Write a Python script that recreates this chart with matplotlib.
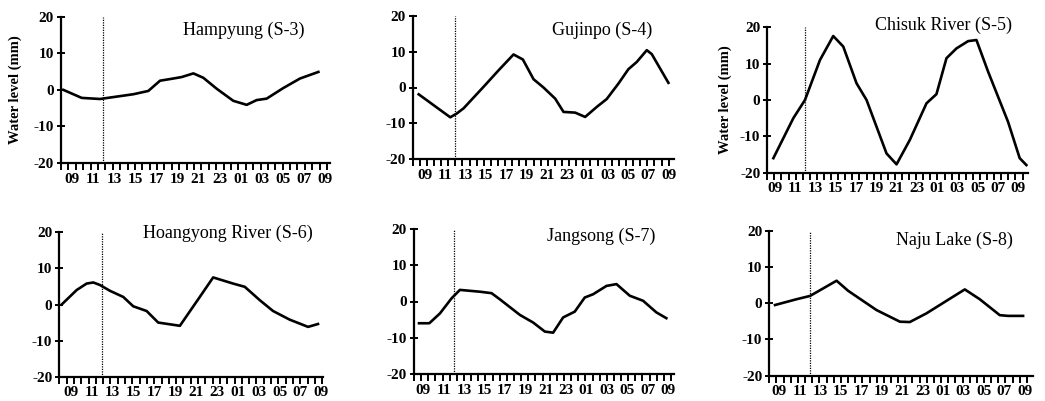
import matplotlib
matplotlib.use('Agg')
import matplotlib.pyplot as plt
import numpy as np

plt.rcParams['font.family'] = ['Liberation Serif', 'DejaVu Serif']

# hours since 00:00 of day 1 (values past 24 are the next morning)
hampyung_t = [8.21, 9.95, 11.68, 14.84, 16.26, 17.37, 18.63, 19.42, 20.53, 21.47, 22.74, 24.31, 25.58, 26.52, 27.47, 29.05, 30.63, 32.37]
hampyung_y = [0.0, -2.2, -2.5, -1.2, -0.3, 2.5, 3.1, 3.5, 4.5, 3.3, 0.3, -3.0, -4.1, -2.8, -2.4, 0.5, 3.1, 4.9]

gujinpo_t = [8.38, 11.49, 12.15, 12.8, 14.77, 16.25, 17.72, 18.64, 19.69, 20.67, 21.82, 22.64, 23.79, 24.77, 25.92, 26.9, 28.05, 29.03, 29.85, 30.84, 31.33, 32.97]
gujinpo_y = [-1.9, -8.3, -7.2, -5.8, 0.2, 4.8, 9.2, 7.8, 2.3, 0.0, -3.1, -6.8, -7.0, -8.2, -5.4, -3.2, 1.1, 5.1, 7.1, 10.4, 9.3, 1.3]

chisuk_t = [8.84, 10.81, 11.96, 13.44, 14.75, 15.74, 17.05, 18.04, 20.01, 21.0, 22.31, 23.96, 24.94, 25.93, 26.92, 28.07, 28.89, 30.04, 32.01, 33.16, 33.82]
chisuk_y = [-16.0, -5.0, 0.0, 11.0, 17.6, 14.7, 4.6, 0.0, -14.7, -17.7, -11.0, -0.9, 1.6, 11.5, 14.2, 16.2, 16.5, 7.8, -6.0, -16.0, -17.9]

hoangyong_t = [8.11, 9.54, 10.5, 11.14, 11.78, 12.73, 14.01, 14.97, 16.25, 17.36, 19.44, 21.35, 22.63, 24.54, 25.66, 27.1, 28.37, 29.97, 31.73, 32.68]
hoangyong_y = [0.0, 4.0, 5.8, 6.1, 5.4, 3.8, 2.1, -0.5, -1.8, -5.0, -5.9, 2.1, 7.5, 5.8, 4.9, 1.2, -1.8, -4.2, -6.2, -5.4]

jangsong_t = [8.58, 9.59, 10.63, 11.78, 12.59, 14.55, 15.69, 16.51, 18.47, 19.77, 20.92, 21.73, 22.71, 23.85, 24.83, 25.65, 26.96, 27.94, 29.24, 30.55, 31.85, 32.83]
jangsong_y = [-6.0, -6.0, -3.3, 0.9, 3.2, 2.7, 2.3, 0.6, -3.7, -5.8, -8.3, -8.6, -4.4, -2.8, 1.1, 2.0, 4.3, 4.8, 1.6, 0.2, -3.0, -4.6]

naju_t = [8.58, 10.69, 12.0, 13.3, 14.6, 15.74, 18.51, 20.79, 21.76, 23.39, 26.0, 27.14, 28.6, 30.56, 31.37, 32.84]
naju_y = [-0.5, 1.1, 2.0, 4.1, 6.2, 3.4, -1.9, -5.1, -5.2, -2.8, 1.8, 3.8, 1.1, -3.3, -3.5, -3.5]

titles = ['Hampyung (S-3)', 'Gujinpo (S-4)', 'Chisuk River (S-5)',
          'Hoangyong River (S-6)', 'Jangsong (S-7)', 'Naju Lake (S-8)']
hour_labels = ['09', '11', '13', '15', '17', '19', '21', '23', '01', '03', '05', '07', '09']
hour_pos = [9, 11, 13, 15, 17, 19, 21, 23, 25, 27, 29, 31, 33]
marker_hour = 12

series = [(hampyung_t, hampyung_y), (gujinpo_t, gujinpo_y), (chisuk_t, chisuk_y),
          (hoangyong_t, hoangyong_y), (jangsong_t, jangsong_y), (naju_t, naju_y)]

W, H = 1045, 401
# (left, right, top, bottom) in pixels
boxes = [(61, 330, 16.7, 163), (412.7, 674, 15.7, 159.3), (767.3, 1028, 27.3, 172.7),
         (59.3, 323, 232.3, 376.7), (414, 674, 229, 374), (769.3, 1033, 230.7, 375.7)]
xlims = [(7.99, 33.47), (7.79, 33.52), (8.24, 33.98), (7.88, 33.16), (8.09, 33.58), (8.02, 33.81)]
title_pos = [(0.907, 0.91), (0.915, 0.90), (0.937, 1.016),
             (0.962, 0.993), (0.927, 0.947), (0.925, 0.936)]
ylabel_x = [-0.145, None, -0.135, None, None, None]

fig = plt.figure(figsize=(W / 100, H / 100), dpi=100)

for i, (t, y) in enumerate(series):
    l, r, top, b = boxes[i]
    ax = fig.add_axes([l / W, 1 - b / H, (r - l) / W, (b - top) / H])
    ax.plot(t, y, color='black', lw=1.9, solid_joinstyle='round')
    ax.axvline(marker_hour, color='black', lw=0.9, ls=(0, (1, 1)))
    x0, x1 = xlims[i]
    ax.set_xlim(x0, x1)
    ax.set_ylim(-20, 20)
    for s in ['top', 'right']:
        ax.spines[s].set_visible(False)
    for s in ['left', 'bottom']:
        ax.spines[s].set_linewidth(1.6)
    ax.set_yticks([-20, -10, 0, 10, 20])
    ax.set_yticklabels(['-20', '-10', '0', '10', '20'], fontweight='bold', fontsize=11)
    ax.tick_params(axis='y', direction='inout', length=6, width=1.4, pad=2)
    ax.set_xticks(hour_pos)
    ax.set_xticklabels(hour_labels, fontweight='bold', fontsize=11)
    ax.set_xticks(np.arange(x0, x1 + 0.01, 0.7), minor=True)
    ax.tick_params(axis='x', which='major', length=0, pad=7)
    ax.tick_params(axis='x', which='minor', direction='out', length=5, width=1.4)
    tx, ty = title_pos[i]
    ax.text(tx, ty, titles[i], transform=ax.transAxes, ha='right', va='center', fontsize=13)
    if ylabel_x[i] is not None:
        ax.set_ylabel('Water level (mm)', fontweight='bold', fontsize=10.5)
        ax.yaxis.set_label_coords(ylabel_x[i], 0.5)

fig.savefig('out.png', dpi=100)
